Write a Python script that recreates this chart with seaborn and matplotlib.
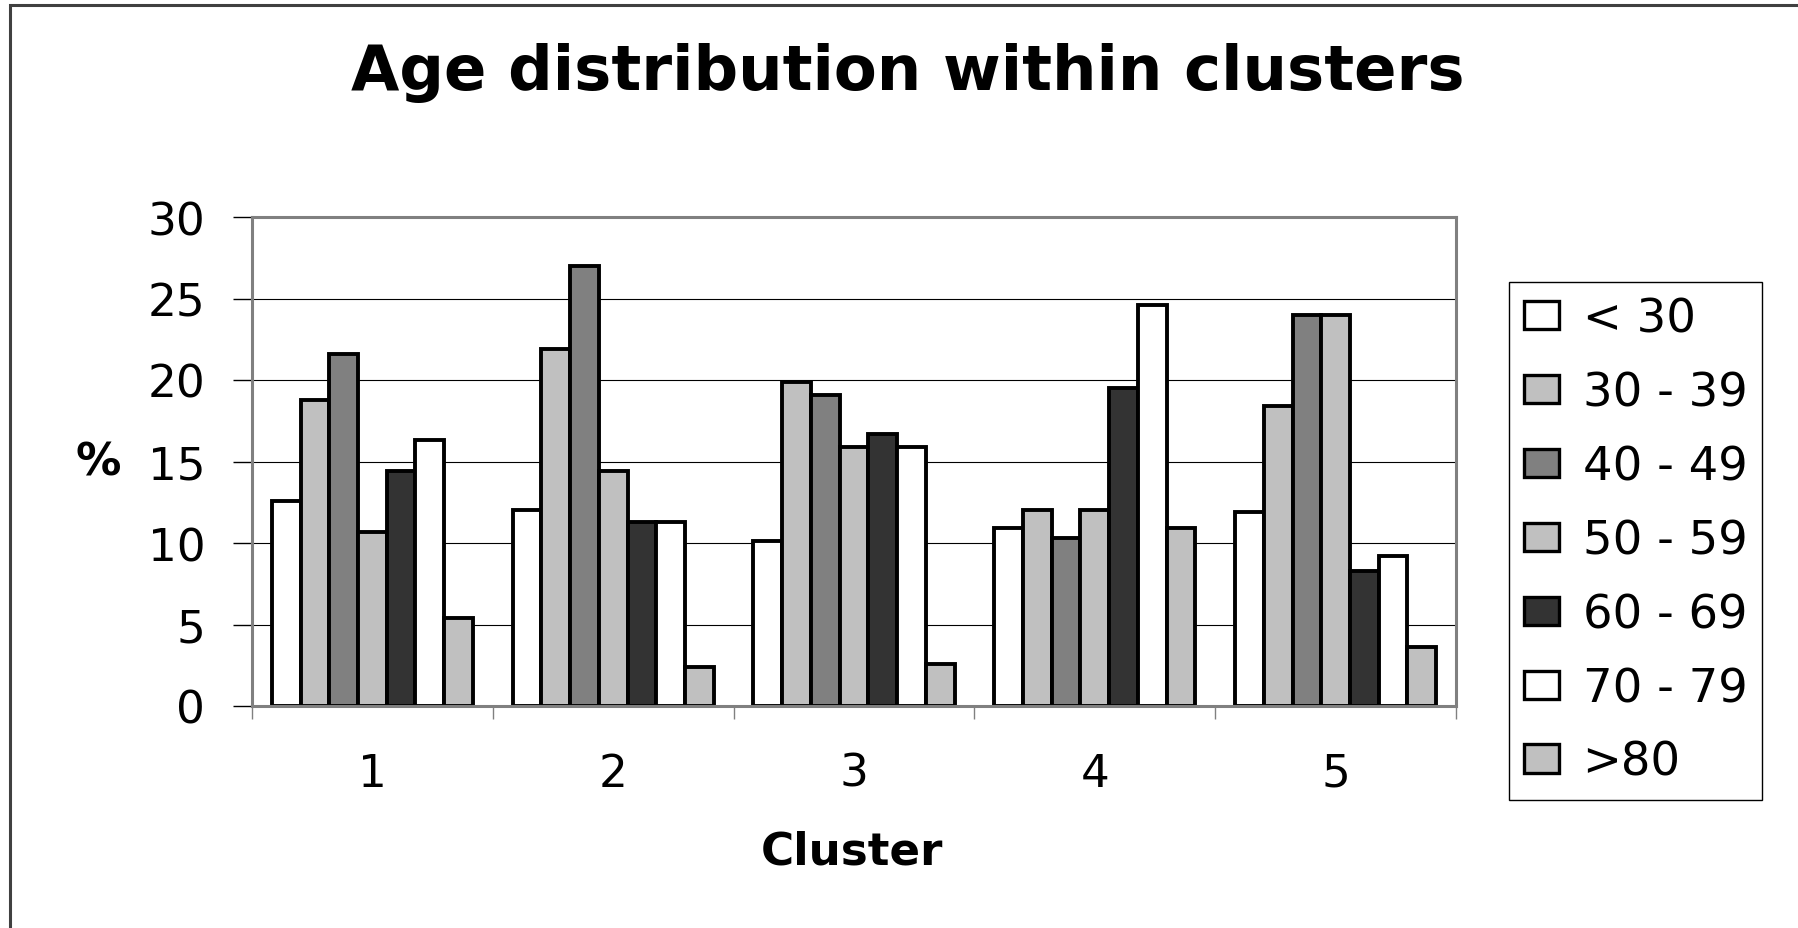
import pandas as pd
import matplotlib
matplotlib.use('Agg')
import matplotlib.pyplot as plt
from matplotlib.patches import Rectangle
import seaborn as sns

# Values (percent per age group, per cluster)
clusters = ['1', '2', '3', '4', '5']
age_groups = ['< 30', '30 - 39', '40 - 49', '50 - 59', '60 - 69', '70 - 79', '>80']
under_30 = [12.6, 12.0, 10.1, 10.9, 11.9]
age_30_39 = [18.8, 21.9, 19.9, 12.0, 18.4]
age_40_49 = [21.6, 27.0, 19.1, 10.3, 24.0]
age_50_59 = [10.7, 14.4, 15.9, 12.0, 24.0]
age_60_69 = [14.4, 11.3, 16.7, 19.5, 8.3]
age_70_79 = [16.3, 11.3, 15.9, 24.6, 9.2]
over_80 = [5.4, 2.4, 2.6, 10.9, 3.6]
bar_colors = ['#FFFFFF', '#C0C0C0', '#808080', '#C0C0C0', '#333333', '#FFFFFF', '#C0C0C0']

series = [under_30, age_30_39, age_40_49, age_50_59, age_60_69, age_70_79, over_80]
rows = []
for group, values in zip(age_groups, series):
    for cluster, value in zip(clusters, values):
        rows.append({'Cluster': cluster, 'Age': group, 'Percent': value})
df = pd.DataFrame(rows)
palette = dict(zip(age_groups, bar_colors))

W, H = 1798, 929
fig = plt.figure(figsize=(W / 100, H / 100), dpi=100)
ax = fig.add_axes([252 / W, 1 - 707 / H, (1456 - 252) / W, (707 - 218) / H])

sns.barplot(data=df, x='Cluster', y='Percent', hue='Age', order=clusters,
            hue_order=age_groups, palette=palette, saturation=1, width=0.835,
            edgecolor='black', linewidth=2.8, ax=ax)

ax.set_xlim(-0.5, 4.5)
ax.set_ylim(0, 30)
ax.set_yticks(range(0, 31, 5))
ax.set_xticks(range(5))
ax.set_xticks([-0.5, 0.5, 1.5, 2.5, 3.5, 4.5], minor=True)

ax.yaxis.grid(True, color='black', linewidth=0.8)
ax.set_axisbelow(True)
for side in ['left', 'right', 'top', 'bottom']:
    ax.spines[side].set_visible(True)
    ax.spines[side].set_color('#808080')
    ax.spines[side].set_linewidth(2.2)

ax.tick_params(axis='y', left=True, length=13.7, width=1, color='black',
               pad=20, labelsize=32.6)
ax.tick_params(axis='x', which='major', bottom=True, length=0, pad=33, labelsize=32.6)
ax.tick_params(axis='x', which='minor', bottom=True, length=9.4, width=1, color='#808080')

ax.set_ylabel('%', rotation=0, fontsize=32.6, fontweight='bold', va='center', ha='center')
ax.yaxis.set_label_coords((98 - 252) / 1204, 0.5)
ax.set_xlabel('Cluster', fontsize=32.6, fontweight='bold', va='center')
ax.xaxis.set_label_coords(0.498, -0.297)

fig.text(0.505, 1 - 73 / H, 'Age distribution within clusters', ha='center',
         va='center', fontsize=45, fontweight='bold')

handles, labels = ax.get_legend_handles_labels()
leg = ax.legend(handles, labels, loc='upper left',
                bbox_to_anchor=(1509 / W, 1 - 283 / H), bbox_transform=fig.transFigure,
                fontsize=33.5, frameon=True, fancybox=False, edgecolor='black',
                framealpha=1, borderaxespad=0, handlelength=0.76, handleheight=0.55,
                handletextpad=0.5, labelspacing=0.62, borderpad=0.32)
leg.get_frame().set_linewidth(1.0)
for h in leg.legend_handles:
    h.set_edgecolor('black')
    h.set_linewidth(2.4)

# frame around the whole chart area (left and top edges visible)
fig.add_artist(Rectangle((10 / W, -0.05), 1.1, (1 - 6 / H) + 0.05,
                         transform=fig.transFigure, fill=False,
                         edgecolor='#404040', linewidth=2.2, clip_on=False))

fig.savefig('out.png', dpi=100)
